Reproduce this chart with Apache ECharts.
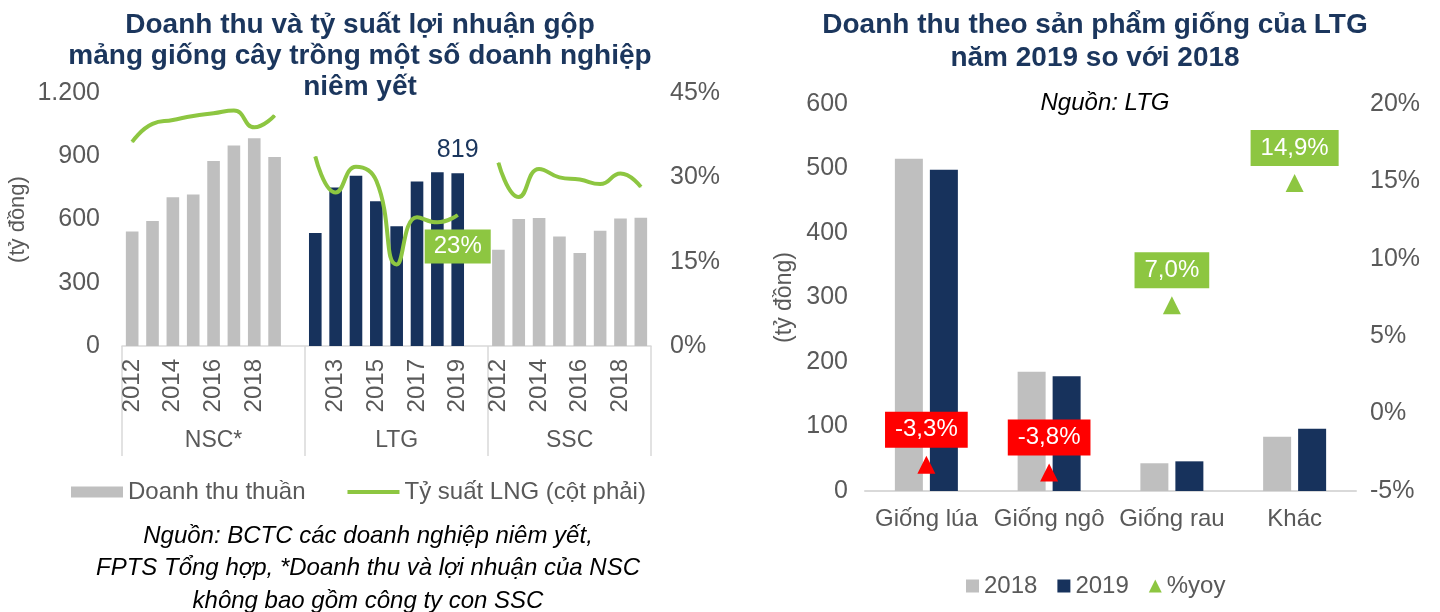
<!DOCTYPE html>
<html>
<head>
    <meta charset="UTF-8">
    <title>Doanh thu giống cây trồng</title>
    <script src="https://cdn.jsdelivr.net/npm/echarts@6/dist/echarts.min.js"></script>
    <style>
        html, body { margin: 0; padding: 0; background: #fff; }
        #chart { width: 1440px; height: 612px; }
    </style>
</head>
<body>
<div id="chart"></div>
<script type="text/javascript">
    // ---- bieu do trai: doanh thu (ty dong) va ty suat LNG (%) ----
    var years = ['2012', '2013', '2014', '2015', '2016', '2017', '2018', '2019'];
    var groupNames = ['NSC*', 'LTG', 'SSC'];
    var nscRevenue = [543, 593, 706, 719, 878, 951, 985, 897];
    var ltgRevenue = [536, 752, 808, 686, 568, 780, 824, 819];
    var sscRevenue = [457, 602, 607, 519, 441, 547, 605, 608];
    var nscMargin = [36.3, 39.5, 40.2, 40.9, 41.4, 41.9, 38.9, 41.0];
    var ltgMargin = [33.7, 27.3, 31.9, 29.4, 14.5, 22.9, 22.0, 23.3];
    var sscMargin = [32.6, 26.5, 31.5, 30.0, 29.6, 28.8, 30.7, 28.3];

    // ---- bieu do phai: doanh thu LTG theo san pham ----
    var products = ['Giống lúa', 'Giống ngô', 'Giống rau', 'Khác'];
    var rev2018 = [515, 185, 43, 84];
    var rev2019 = [498, 178, 46, 96.5];
    var yoy = [-3.3, -3.8, 7.0, 14.9];

    var FONT = '"Liberation Sans", Arial, sans-serif';
    var GRAY = '#BFBFBF';
    var NAVY = '#17325C';
    var GREEN = '#8DC641';
    var RED = '#FF0000';
    var TXT = '#595959';
    var TITLE = '#1B365D';
    var FS = 24;   // co chu chung

    // ghep 3 nhom thanh 1 truc, co 1 o trong giua cac nhom
    var groups = [nscRevenue, ltgRevenue, sscRevenue];
    var margins = [nscMargin, ltgMargin, sscMargin];
    var cats = [], barData = [], lineData = [[], [], []], groupRanges = [];
    for (var g = 0; g < groups.length; g++) {
        var start = cats.length;
        for (var i = 0; i < years.length; i++) {
            cats.push(years[i]);
            var item = {value: groups[g][i], itemStyle: {color: g == 1 ? NAVY : GRAY}};
            if (g == 1 && i == years.length - 1) {
                item.label = {show: true, position: 'top', distance: 11, color: TITLE, fontSize: 25, fontFamily: FONT};
            }
            barData.push(item);
            for (var k = 0; k < 3; k++) {
                if (k == g) {
                    var p = {value: margins[g][i]};
                    if (g == 1 && i == years.length - 1) {
                        p.label = {
                            show: true, position: 'bottom', distance: 14,
                            formatter: function (v) { return Math.round(v.value) + '%'; },
                            color: '#fff', fontSize: FS, fontFamily: FONT,
                            backgroundColor: GREEN, padding: [5, 9], lineHeight: 24
                        };
                    }
                    lineData[k].push(p);
                } else {
                    lineData[k].push('-');
                }
            }
        }
        if (g < groups.length - 1) {
            cats.push('');
            barData.push('-');
            for (var k2 = 0; k2 < 3; k2++) lineData[k2].push('-');
        }
        groupRanges.push([start, cats.length - 1]);
    }
    var sepIdx = groupRanges.map(function (r) { return r[0]; });

    function lineSeries(data) {
        return {
            name: 'Tỷ suất LNG (cột phải)',
            type: 'line',
            xAxisIndex: 0,
            yAxisIndex: 1,
            smooth: 0.5,
            showSymbol: true,
            symbol: 'circle',
            symbolSize: 1,
            connectNulls: false,
            lineStyle: {color: GREEN, width: 4},
            itemStyle: {color: GREEN},
            data: data
        };
    }

    var myChart = echarts.init(document.getElementById('chart'));
    var option = {
        animation: false,
        textStyle: {fontFamily: FONT},
        title: [{
            text: 'Doanh thu và tỷ suất lợi nhuận gộp\nmảng giống cây trồng một số doanh nghiệp\nniêm yết',
            left: 355, top: 5, textAlign: 'center',
            textStyle: {fontSize: 28, fontWeight: 'bold', color: TITLE, lineHeight: 31, fontFamily: FONT}
        }, {
            text: 'Doanh thu theo sản phẩm giống của LTG\nnăm 2019 so với 2018',
            left: 1090, top: 4, textAlign: 'center',
            textStyle: {fontSize: 28, fontWeight: 'bold', color: TITLE, lineHeight: 33, fontFamily: FONT}
        }, {
            text: 'Nguồn: LTG',
            left: 1100, top: 84, textAlign: 'center',
            textStyle: {fontSize: FS, fontWeight: 'normal', fontStyle: 'italic', color: '#000', lineHeight: 28, fontFamily: FONT}
        }, {
            text: 'Nguồn: BCTC các doanh nghiệp niêm yết,\nFPTS Tổng hợp, *Doanh thu và lợi nhuận của NSC\nkhông bao gồm công ty con SSC',
            left: 363, top: 515, textAlign: 'center',
            textStyle: {fontSize: FS, fontWeight: 'normal', fontStyle: 'italic', color: '#000', lineHeight: 32.5, fontFamily: FONT}
        }],
        legend: [{
            left: 71, top: 480, padding: 0,
            itemWidth: 52, itemHeight: 11, itemGap: 40,
            textStyle: {fontSize: FS, color: TXT, fontFamily: FONT},
            data: [
                {name: 'Doanh thu thuần', icon: 'rect'},
                {name: 'Tỷ suất LNG (cột phải)', itemStyle: {opacity: 0}, lineStyle: {width: 4, color: GREEN}}
            ]
        }, {
            left: 966, top: 574, padding: 0,
            itemWidth: 13, itemHeight: 13, itemGap: 20,
            textStyle: {fontSize: FS, color: TXT, fontFamily: FONT},
            data: [
                {name: '2018', icon: 'rect'},
                {name: '2019', icon: 'rect'},
                {name: '%yoy'}
            ]
        }],
        grid: [
            {left: 122, top: 93, width: 529, height: 253},
            {left: 865, top: 104, width: 491, height: 387}
        ],
        xAxis: [{
            type: 'category', gridIndex: 0, data: cats,
            axisLine: {lineStyle: {color: '#D9D9D9', width: 1.5}},
            axisTick: {
                show: true, length: 110,
                interval: function (index) { return sepIdx.indexOf(index) >= 0; },
                lineStyle: {color: '#D9D9D9', width: 1.5}
            },
            axisLabel: {interval: 1, rotate: 90, margin: 13, fontSize: FS, color: TXT, fontFamily: FONT}
        }, {
            type: 'category', gridIndex: 1, data: products,
            axisLine: {lineStyle: {color: '#D9D9D9', width: 2}},
            axisTick: {show: false},
            axisLabel: {interval: 0, margin: 16, fontSize: FS, color: TXT, fontFamily: FONT}
        }],
        yAxis: [{
            type: 'value', gridIndex: 0, min: 0, max: 1200, interval: 300,
            name: '(tỷ đồng)', nameLocation: 'middle', nameGap: 93, nameRotate: 90,
            nameTextStyle: {fontSize: 22, color: TXT, fontFamily: FONT},
            axisLine: {show: false}, axisTick: {show: false}, splitLine: {show: false},
            axisLabel: {
                margin: 22, fontSize: 25, color: TXT, fontFamily: FONT,
                formatter: function (v) { return String(v).replace(/\B(?=(\d{3})+(?!\d))/g, '.'); }
            }
        }, {
            type: 'value', gridIndex: 0, min: 0, max: 45, interval: 15, position: 'right',
            axisLine: {show: false}, axisTick: {show: false}, splitLine: {show: false},
            axisLabel: {margin: 19, fontSize: 25, color: TXT, fontFamily: FONT, formatter: '{value}%'}
        }, {
            type: 'value', gridIndex: 1, min: 0, max: 600, interval: 100,
            name: '(tỷ đồng)', nameLocation: 'middle', nameGap: 69, nameRotate: 90,
            nameTextStyle: {fontSize: 23, color: TXT, fontFamily: FONT},
            axisLine: {show: false}, axisTick: {show: false}, splitLine: {show: false},
            axisLabel: {margin: 17, fontSize: 25, color: TXT, fontFamily: FONT}
        }, {
            type: 'value', gridIndex: 1, min: -5, max: 20, interval: 5, position: 'right',
            axisLine: {show: false}, axisTick: {show: false}, splitLine: {show: false},
            axisLabel: {margin: 14, fontSize: 25, color: TXT, fontFamily: FONT, formatter: '{value}%'}
        }],
        series: [{
            name: 'Doanh thu thuần',
            type: 'bar', xAxisIndex: 0, yAxisIndex: 0,
            barWidth: '62%',
            itemStyle: {color: GRAY},
            data: barData
        },
            lineSeries(lineData[0]),
            lineSeries(lineData[1]),
            lineSeries(lineData[2]),
        {
            name: 'nhom',
            type: 'custom', xAxisIndex: 0, yAxisIndex: 0,
            clip: false, silent: true,
            encode: {x: 0, y: 1},
            data: groupRanges,
            renderItem: function (params, api) {
                var a = api.coord([api.value(0), 0]);
                var b = api.coord([api.value(1), 0]);
                return {
                    type: 'text',
                    x: (a[0] + b[0]) / 2,
                    y: a[1] + 95,
                    style: {
                        text: groupNames[params.dataIndex],
                        fill: TXT, fontSize: 23, fontFamily: FONT,
                        align: 'center', verticalAlign: 'middle'
                    }
                };
            }
        }, {
            name: '2018',
            type: 'bar', xAxisIndex: 1, yAxisIndex: 2,
            barWidth: 28, barGap: '25%',
            itemStyle: {color: GRAY},
            data: rev2018
        }, {
            name: '2019',
            type: 'bar', xAxisIndex: 1, yAxisIndex: 2,
            barWidth: 28, barGap: '25%',
            itemStyle: {color: NAVY},
            data: rev2019
        }, {
            name: '%yoy',
            type: 'scatter', xAxisIndex: 1, yAxisIndex: 3,
            symbol: 'triangle', symbolSize: 18,
            itemStyle: {color: GREEN, opacity: 1},
            label: {
                show: true, position: 'top', distance: 8,
                color: '#fff', fontSize: FS, fontFamily: FONT,
                padding: [6, 10], lineHeight: 24,
                formatter: function (p) { return p.value.toFixed(1).replace('.', ',') + '%'; }
            },
            data: yoy.map(function (v) {
                var c = v < 0 ? RED : GREEN;
                return {value: v, itemStyle: {color: c, opacity: 1}, label: {backgroundColor: c}};
            })
        }]
    };
    myChart.setOption(option);
</script>
</body>
</html>
